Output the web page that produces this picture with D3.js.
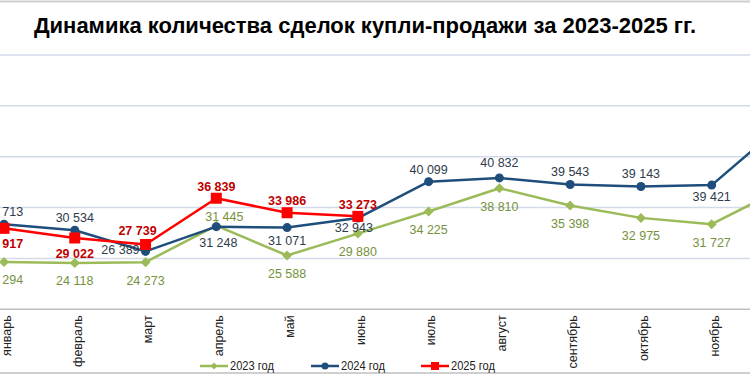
<!DOCTYPE html>
<html><head><meta charset="utf-8">
<script src="https://cdn.jsdelivr.net/npm/d3@7"></script>
<style>
html,body{margin:0;padding:0;background:#fff;overflow:hidden}
svg{display:block;font-family:"Liberation Sans",Arial,sans-serif}
</style></head>
<body>
<svg id="chart" width="750" height="375"></svg>
<script>
const months = ['январь','февраль','март','апрель','май','июнь','июль','август','сентябрь','октябрь','ноябрь','декабрь'];
const v2023 = [24294,24118,24273,31445,25588,29880,34225,38810,35398,32975,31727,38800];
const v2024 = [31713,30534,26389,31248,31071,32943,40099,40832,39543,39143,39421,51300];
const v2025 = [30917,29022,27739,36839,33986,33273];
const seriesNames = ['2023 год','2024 год','2025 год'];
const yTicks = [15000,25000,35000,45000,55000,65000];

// label placement (style config, not data)
const place2023 = ['b','b','b','a','b','b','b','b','b','b','b','b'];
const place2024 = ['a','a','l','b','b','b','a','a','a','a','b','a'];
const place2025 = ['b','b','a','a','a','a'];

const svg = d3.select('#chart');
const W = 750, H = 375;

// outer border lines
svg.append('line').attr('x1',0).attr('x2',W).attr('y1',1.5).attr('y2',1.5).attr('stroke','#cfcfcf').attr('stroke-width',2);
svg.append('line').attr('x1',0).attr('x2',W).attr('y1',373).attr('y2',373).attr('stroke','#cfcfcf').attr('stroke-width',2);

svg.append('text').attr('x',365).attr('y',33).attr('text-anchor','middle')
  .attr('font-size',22).attr('font-weight','bold').attr('fill','#000')
  .text('Динамика количества сделок купли-продажи за 2023-2025 гг.');

const x = d3.scalePoint().domain(months).range([4, 4 + 70.77*11]);
const y = d3.scaleLinear().domain([15000,65000]).range([309.3,55]);

// gridlines
svg.append('g').selectAll('line').data(yTicks.slice(1)).join('line')
  .attr('x1',0).attr('x2',W).attr('y1',d=>y(d)).attr('y2',d=>y(d))
  .attr('stroke','#d3daea').attr('stroke-width',1.5);

// x axis
const xAxis = d3.axisBottom(x).tickSize(0).tickPadding(0);
const gx = svg.append('g').attr('transform',`translate(0,${y(15000)})`).call(xAxis);
gx.select('.domain').attr('d',`M0,0H${W}`).attr('stroke','#bfbfbf').attr('stroke-width',1.5);
gx.selectAll('.tick text')
  .attr('transform','translate(2,6) rotate(-90)')
  .attr('text-anchor','end').attr('x',0).attr('y',0).attr('dy','0.35em')
  .attr('font-size',12.5).attr('fill','#222').attr('font-family','"Liberation Sans",Arial,sans-serif');

const fmt = v => d3.format(',')(v).replace(/,/g,' ');

const series = [
  {vals:v2023, color:'#9bbb59', lc:'#76923c', place:place2023, marker:'diamond', bold:false, above:-11, below:18},
  {vals:v2024, color:'#1f4e7c', lc:'#2f3b4c', place:place2024, marker:'circle', bold:false, above:-12.5, below:13},
  {vals:v2025, color:'#ff0000', lc:'#c00000', place:place2025, marker:'square', bold:true, above:-12, below:15.5}
];
const tweaks = {'0-3':{dx:8,dy:2}, '2-2':{dx:-8,dy:-1.5}, '1-7':{dx:0,dy:-3}, '1-5':{dx:-4,dy:-3}, '1-10':{dx:0,dy:-1}, '1-3':{dx:2,dy:3}, '1-2':{dx:-2,dy:-2}};

const line = d3.line().x((d,i)=>x(months[i])).y(d=>y(d));

function drawMarker(g, type, cx, cy, color, s){
  if(type==='diamond'){
    const r = s||5;
    g.append('path').attr('d',`M${cx},${cy-r}L${cx+r},${cy}L${cx},${cy+r}L${cx-r},${cy}Z`).attr('fill',color);
  } else if(type==='circle'){
    g.append('circle').attr('cx',cx).attr('cy',cy).attr('r',s||4.5).attr('fill',color);
  } else {
    const h = s||5.5;
    g.append('rect').attr('x',cx-h).attr('y',cy-h).attr('width',2*h).attr('height',2*h).attr('fill',color);
  }
}

series.forEach((s,si)=>{
  const g = svg.append('g');
  g.append('path').datum(s.vals).attr('d',line).attr('fill','none')
    .attr('stroke',s.color).attr('stroke-width',2.5).attr('stroke-linejoin','round');
  s.vals.forEach((v,i)=>drawMarker(g, s.marker, x(months[i]), y(v), s.color));
});
series.forEach((s,si)=>{
  const g = svg.append('g');
  s.vals.forEach((v,i)=>{
    const p = s.place[i];
    const t = tweaks[si+'-'+i] || {dx:0,dy:0};
    let lx = x(months[i]) + t.dx, ly = y(v) + t.dy, anchor = 'middle';
    if(p==='a') ly += s.above;
    else if(p==='b') ly += s.below;
    else if(p==='l'){ lx -= 4; anchor='end'; }
    g.append('text').attr('x',lx).attr('y',ly).attr('dy','0.35em')
      .attr('text-anchor',anchor).attr('font-size',12.5)
      .attr('font-weight',s.bold?'bold':'normal').attr('fill',s.lc).text(fmt(v));
  });
});

// legend
const legX = [200,311,421];
const lg = svg.append('g');
series.forEach((s,si)=>{
  const x0 = legX[si], ly = 366;
  lg.append('line').attr('x1',x0).attr('x2',x0+28).attr('y1',ly).attr('y2',ly).attr('stroke',s.color).attr('stroke-width',2.5);
  drawMarker(lg, s.marker, x0+14, ly, s.color, s.marker==='square'?4:3.5);
  lg.append('text').attr('x',x0+30).attr('y',ly).attr('dy','0.35em').attr('font-size',12)
    .attr('fill','#222').attr('textLength',44).attr('lengthAdjust','spacingAndGlyphs').text(seriesNames[si]);
});
</script>
</body></html>
